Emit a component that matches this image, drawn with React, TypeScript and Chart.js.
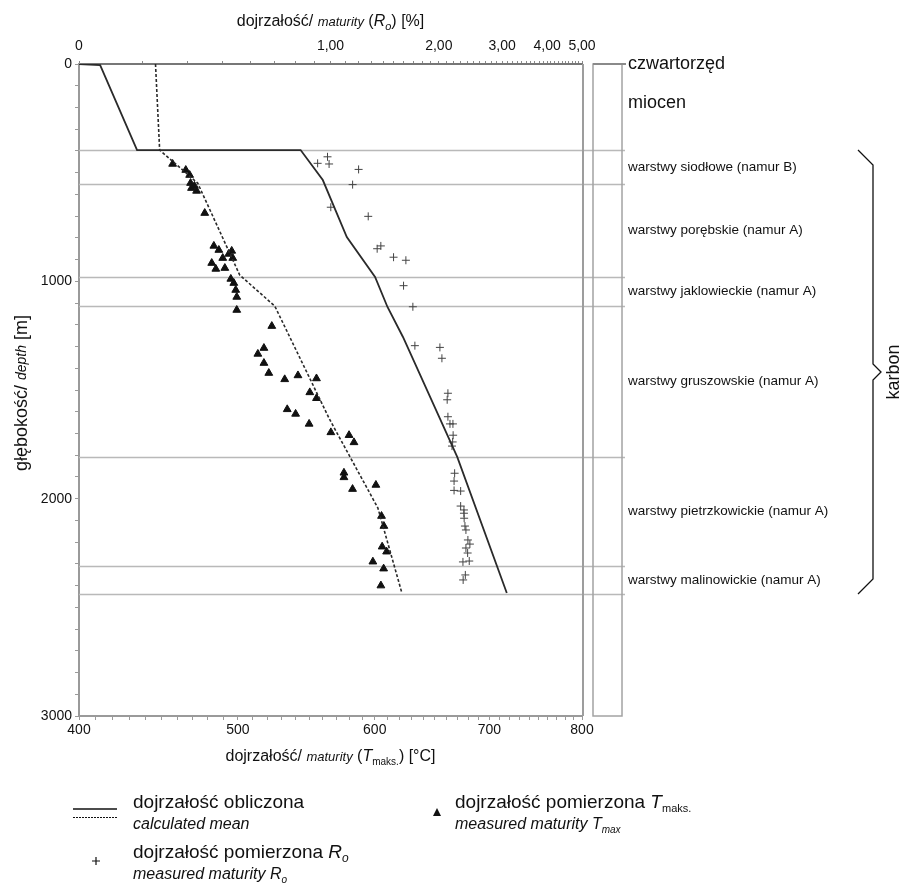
import React, { useEffect, useRef } from 'react';
import { Chart, registerables, LinearScale } from 'chart.js';

Chart.register(...registerables);

// ---------- data ----------
const CALC_RO_DEPTH = [0, 5, 396, 396, 534, 796, 980, 1118, 1256, 1808, 2434];
const CALC_RO = [0.2, 0.229, 0.29, 0.826, 0.952, 1.11, 1.33, 1.44, 1.59, 2.25, 3.09];

const CALC_TMAX_DEPTH = [0, 396, 548, 971, 1114, 1638, 2043, 2434];
const CALC_TMAX = [446.4, 449, 473.3, 501.2, 525.4, 565.4, 602.5, 622];

const MEAS_RO_DEPTH = [457, 427, 460, 485, 555, 659, 701, 850, 837, 889, 903, 1020, 1117, 1296, 1304, 1354, 1515, 1545, 1623, 1656, 1656, 1708, 1739, 1758, 1883, 1919, 1962, 1965, 2034, 2052, 2067, 2090, 2126, 2144, 2190, 2209, 2227, 2250, 2287, 2291, 2351, 2374];
const MEAS_RO = [0.921, 0.981, 0.991, 1.197, 1.152, 1.002, 1.273, 1.348, 1.38, 1.497, 1.62, 1.596, 1.694, 1.716, 2.014, 2.04, 2.12, 2.11, 2.12, 2.148, 2.189, 2.192, 2.185, 2.176, 2.213, 2.205, 2.205, 2.3, 2.3, 2.349, 2.349, 2.352, 2.364, 2.379, 2.409, 2.44, 2.379, 2.405, 2.43, 2.334, 2.37, 2.337];

const MEAS_TMAX_DEPTH = [460, 488, 511, 548, 571, 561, 584, 686, 837, 856, 893, 874, 893, 860, 916, 943, 939, 989, 1008, 1040, 1072, 1132, 1206, 1307, 1334, 1376, 1422, 1451, 1433, 1447, 1511, 1538, 1589, 1610, 1656, 1695, 1708, 1741, 1881, 1902, 1956, 1937, 2080, 2126, 2221, 2244, 2290, 2322, 2400];
const MEAS_TMAX = [457.2, 465.6, 468.1, 468.7, 469.3, 471.2, 472.6, 477.9, 483.9, 487.2, 489.8, 493.8, 496.5, 495.8, 482.5, 485.2, 491.2, 495.2, 497.2, 498.5, 499.2, 499.2, 523.3, 517.8, 513.6, 517.8, 521.2, 532.4, 541.9, 555.4, 550.5, 555.4, 534.2, 540.2, 550, 566.1, 579.9, 583.7, 576, 576, 582.6, 600.9, 605.4, 607.3, 605.9, 609.5, 598.5, 607.1, 604.9];

const BOUNDARY_DEPTHS = [396, 552, 980, 1113, 1808, 2310, 2439];
const STRAT_LABELS = ['czwartorzęd', 'miocen', 'warstwy siodłowe (namur B)', 'warstwy porębskie (namur A)', 'warstwy jaklowieckie (namur A)', 'warstwy gruszowskie (namur A)', 'warstwy pietrzkowickie (namur A)', 'warstwy malinowickie (namur A)'];
const STRAT_LABEL_DEPTHS = [0, 180, 474, 766, 1046, 1460, 2059, 2374];
const KARBON_RANGE = [396, 2439];

const TMAX_TICK_LABELS = [400, 500, 600, 700, 800];
const DEPTH_TICK_LABELS = [0, 1000, 2000, 3000];
const RO_TICK_VALUES = [0.2, 1, 2, 3, 4, 5];
const RO_TICK_TEXT = ['0', '1,00', '2,00', '3,00', '4,00', '5,00'];

// ---------- custom non-linear Tmax scale ----------
const QA = 1.352, QB = -0.352;
class TmaxScale extends LinearScale {
  static id = 'tmax';
  static defaults = LinearScale.defaults;
  getPixelForValue(value: any) {
    if (value === null || value === undefined || isNaN(value)) return NaN;
    const t = (value - this.min) / (this.max - this.min);
    return this.getPixelForDecimal(QA * t + QB * t * t);
  }
  getValueForPixel(pixel: number) {
    const f = this.getDecimalForPixel(pixel);
    const t = (QA - Math.sqrt(QA * QA + 4 * QB * f)) / (-2 * QB);
    return this.min + t * (this.max - this.min);
  }
}
Chart.register(TmaxScale as any);

const FONT = '"Liberation Sans", Arial, Helvetica, sans-serif';
const zip = (xs: number[], ys: number[]) => xs.map((x, i) => ({ x, y: ys[i] }));

type Run = { t: string; f: string; dy?: number };
function drawRuns(ctx: CanvasRenderingContext2D, runs: Run[], x: number, y: number, align: 'left' | 'center') {
  let w = 0;
  runs.forEach(r => { ctx.font = r.f; w += ctx.measureText(r.t).width; });
  let cx = align === 'center' ? x - w / 2 : x;
  ctx.textAlign = 'left';
  ctx.textBaseline = 'middle';
  runs.forEach(r => { ctx.font = r.f; ctx.fillText(r.t, cx, y + (r.dy || 0)); cx += ctx.measureText(r.t).width; });
}

const decoPlugin = {
  id: 'deco',
  beforeDatasetsDraw(chart: any) {
    const ctx: CanvasRenderingContext2D = chart.ctx;
    const ys = chart.scales.y;
    const a = chart.chartArea;
    ctx.save();
    ctx.strokeStyle = '#b9b9b9';
    ctx.lineWidth = 1.5;
    BOUNDARY_DEPTHS.forEach(d => {
      const y = Math.round(ys.getPixelForValue(d)) + 0.5;
      ctx.beginPath(); ctx.moveTo(a.left, y); ctx.lineTo(a.right + 43, y); ctx.stroke();
    });
    ctx.restore();
  },
  afterDraw(chart: any) {
    const ctx: CanvasRenderingContext2D = chart.ctx;
    const ys = chart.scales.y;
    const a = chart.chartArea;
    ctx.save();
    // right frame of plot
    ctx.strokeStyle = '#9d9d9d';
    ctx.lineWidth = 2;
    ctx.beginPath(); ctx.moveTo(a.right + 1, a.top); ctx.lineTo(a.right + 1, a.bottom); ctx.stroke();
    // stratigraphic column box
    const bx = a.right + 11, bw = 29;
    ctx.strokeStyle = '#a3a3a3';
    ctx.lineWidth = 1.5;
    ctx.strokeRect(bx, a.top, bw, a.bottom - a.top);
    ctx.strokeStyle = '#8a8a8a';
    ctx.lineWidth = 2;
    ctx.beginPath(); ctx.moveTo(bx, a.top); ctx.lineTo(bx + bw + 4, a.top); ctx.stroke();
    // labels
    ctx.fillStyle = '#111';
    ctx.textAlign = 'left';
    ctx.textBaseline = 'middle';
    STRAT_LABELS.forEach((s, i) => {
      ctx.font = (i < 2 ? '18px ' : '13.5px ') + FONT;
      ctx.fillText(s, a.right + 46, ys.getPixelForValue(STRAT_LABEL_DEPTHS[i]));
    });
    // brace
    const y1 = ys.getPixelForValue(KARBON_RANGE[0]);
    const y2 = ys.getPixelForValue(KARBON_RANGE[1]);
    const ym = (y1 + y2) / 2;
    const bxr = 873;
    ctx.strokeStyle = '#111';
    ctx.lineWidth = 1.3;
    ctx.beginPath();
    ctx.moveTo(858, y1); ctx.lineTo(bxr, y1 + 15); ctx.lineTo(bxr, ym - 8); ctx.lineTo(bxr + 8, ym);
    ctx.lineTo(bxr, ym + 8); ctx.lineTo(bxr, y2 - 15); ctx.lineTo(858, y2);
    ctx.stroke();
    ctx.save();
    ctx.translate(894, ym);
    ctx.rotate(-Math.PI / 2);
    ctx.font = '18px ' + FONT;
    ctx.textAlign = 'center';
    ctx.fillText('karbon', 0, 0);
    ctx.restore();

    // axis titles
    ctx.fillStyle = '#111';
    const cx = (a.left + a.right) / 2;
    drawRuns(ctx, [
      { t: 'dojrzałość/ ', f: '16px ' + FONT },
      { t: 'maturity', f: 'italic 13px ' + FONT },
      { t: ' (', f: '16px ' + FONT },
      { t: 'R', f: 'italic 16px ' + FONT },
      { t: 'o', f: 'italic 11px ' + FONT, dy: 5 },
      { t: ') [%]', f: '16px ' + FONT },
    ], cx, 22, 'center');
    drawRuns(ctx, [
      { t: 'dojrzałość/ ', f: '16px ' + FONT },
      { t: 'maturity', f: 'italic 13px ' + FONT },
      { t: ' (', f: '16px ' + FONT },
      { t: 'T', f: 'italic 16px ' + FONT },
      { t: 'maks.', f: '10px ' + FONT, dy: 5 },
      { t: ') [°C]', f: '16px ' + FONT },
    ], cx, 757, 'center');
    ctx.save();
    ctx.translate(22, 393);
    ctx.rotate(-Math.PI / 2);
    drawRuns(ctx, [
      { t: 'głębokość/ ', f: '18px ' + FONT },
      { t: 'depth', f: 'italic 14px ' + FONT },
      { t: ' [m]', f: '18px ' + FONT },
    ], 0, 0, 'center');
    ctx.restore();

    // legend
    ctx.strokeStyle = '#111';
    ctx.lineWidth = 1.5;
    ctx.beginPath(); ctx.moveTo(73, 809); ctx.lineTo(117, 809); ctx.stroke();
    ctx.lineWidth = 1;
    ctx.setLineDash([2, 1]);
    ctx.beginPath(); ctx.moveTo(73, 817.5); ctx.lineTo(117, 817.5); ctx.stroke();
    ctx.setLineDash([]);
    drawRuns(ctx, [{ t: 'dojrzałość obliczona', f: '19px ' + FONT }], 133, 803, 'left');
    drawRuns(ctx, [{ t: 'calculated mean', f: 'italic 16px ' + FONT }], 133, 825, 'left');
    drawRuns(ctx, [
      { t: 'dojrzałość pomierzona ', f: '19px ' + FONT },
      { t: 'R', f: 'italic 19px ' + FONT },
      { t: 'o', f: 'italic 12px ' + FONT, dy: 6 },
    ], 133, 853, 'left');
    drawRuns(ctx, [
      { t: 'measured maturity ', f: 'italic 16px ' + FONT },
      { t: 'R', f: 'italic 16px ' + FONT },
      { t: 'o', f: 'italic 10px ' + FONT, dy: 5 },
    ], 133, 875, 'left');
    // plus symbol
    ctx.lineWidth = 1.2;
    ctx.beginPath(); ctx.moveTo(92, 861); ctx.lineTo(100, 861); ctx.moveTo(96, 857); ctx.lineTo(96, 865); ctx.stroke();
    // triangle symbol
    ctx.fillStyle = '#111';
    ctx.beginPath(); ctx.moveTo(437, 808); ctx.lineTo(441, 816); ctx.lineTo(433, 816); ctx.closePath(); ctx.fill();
    drawRuns(ctx, [
      { t: 'dojrzałość pomierzona ', f: '19px ' + FONT },
      { t: 'T', f: 'italic 19px ' + FONT },
      { t: 'maks.', f: '11px ' + FONT, dy: 6 },
    ], 455, 803, 'left');
    drawRuns(ctx, [
      { t: 'measured maturity ', f: 'italic 16px ' + FONT },
      { t: 'T', f: 'italic 16px ' + FONT },
      { t: 'max', f: 'italic 10px ' + FONT, dy: 5 },
    ], 455, 825, 'left');
    ctx.restore();
  },
};

export default function App() {
  const ref = useRef<HTMLCanvasElement>(null);
  useEffect(() => {
    if (!ref.current) return;
    const tickFont = { family: FONT, size: 14 };
    const chart = new Chart(ref.current, {
      type: 'scatter',
      data: {
        datasets: [
          {
            label: 'calc Ro', data: zip(CALC_RO, CALC_RO_DEPTH), xAxisID: 'x2', yAxisID: 'y',
            showLine: true, borderColor: '#2a2a2a', borderWidth: 1.8, pointRadius: 0, fill: false,
          } as any,
          {
            label: 'calc Tmax', data: zip(CALC_TMAX, CALC_TMAX_DEPTH), xAxisID: 'x', yAxisID: 'y',
            showLine: true, borderColor: '#2a2a2a', borderWidth: 1.6, borderDash: [3, 2], pointRadius: 0, fill: false,
          } as any,
          {
            label: 'meas Ro', data: zip(MEAS_RO, MEAS_RO_DEPTH), xAxisID: 'x2', yAxisID: 'y',
            pointStyle: 'cross', pointRadius: 4, borderColor: '#444', borderWidth: 1, backgroundColor: '#444',
          } as any,
          {
            label: 'meas Tmax', data: zip(MEAS_TMAX, MEAS_TMAX_DEPTH), xAxisID: 'x', yAxisID: 'y',
            pointStyle: 'triangle', pointRadius: 4.5, borderColor: '#111', borderWidth: 1, backgroundColor: '#111',
          } as any,
        ],
      },
      options: {
        animation: false,
        responsive: false,
        devicePixelRatio: 1,
        events: [],
        layout: { padding: { left: 0, top: 0, right: 323, bottom: 141 } },
        plugins: { legend: { display: false }, tooltip: { enabled: false } },
        scales: {
          x: {
            type: 'tmax' as any, position: 'bottom', min: 400, max: 800,
            afterFit: (s: any) => { s.height = 30; },
            ticks: {
              stepSize: 10, autoSkip: false, maxRotation: 0, color: '#111', font: tickFont, padding: 2,
              callback: (v: any) => (TMAX_TICK_LABELS.includes(Math.round(v)) && Math.abs(v - Math.round(v)) < 1e-6 ? String(Math.round(v)) : ''),
            },
            grid: { drawOnChartArea: false, tickLength: 4, color: '#9a9a9a', lineWidth: 1 },
            border: { display: true, color: '#9a9a9a', width: 2 },
          } as any,
          x2: {
            type: 'logarithmic', position: 'top', min: 0.2, max: 5, bounds: 'data',
            afterFit: (s: any) => { s.height = 64; },
            afterBuildTicks: (s: any) => {
              const t: any[] = [];
              for (let i = 2; i <= 50; i++) t.push({ value: i / 10, major: false });
              s.ticks = t;
            },
            ticks: {
              autoSkip: false, maxRotation: 0, color: '#111', font: tickFont, padding: 6,
              callback: (v: any) => {
                const i = RO_TICK_VALUES.findIndex(r => Math.abs(r - v) < 1e-6);
                return i >= 0 ? RO_TICK_TEXT[i] : '';
              },
            },
            grid: { drawOnChartArea: false, tickLength: 3, color: '#8a8a8a', lineWidth: 1 },
            border: { display: true, color: '#777', width: 2 },
          } as any,
          y: {
            type: 'linear', reverse: true, min: 0, max: 3000,
            afterFit: (s: any) => { s.width = 79; },
            ticks: {
              stepSize: 100, autoSkip: false, color: '#111', font: tickFont, padding: 3,
              callback: (v: any) => (DEPTH_TICK_LABELS.includes(v) ? String(v) : ''),
            },
            grid: { drawOnChartArea: false, tickLength: 4, color: '#9a9a9a', lineWidth: 1 },
            border: { display: true, color: '#9a9a9a', width: 2 },
          } as any,
        },
      },
      plugins: [decoPlugin],
    });
    return () => chart.destroy();
  }, []);
  return (
    <div style={{ position: 'fixed', left: 0, top: 0, width: 905, height: 887, background: '#fff' }}>
      <canvas ref={ref} width={905} height={887} style={{ display: 'block' }} />
    </div>
  );
}
